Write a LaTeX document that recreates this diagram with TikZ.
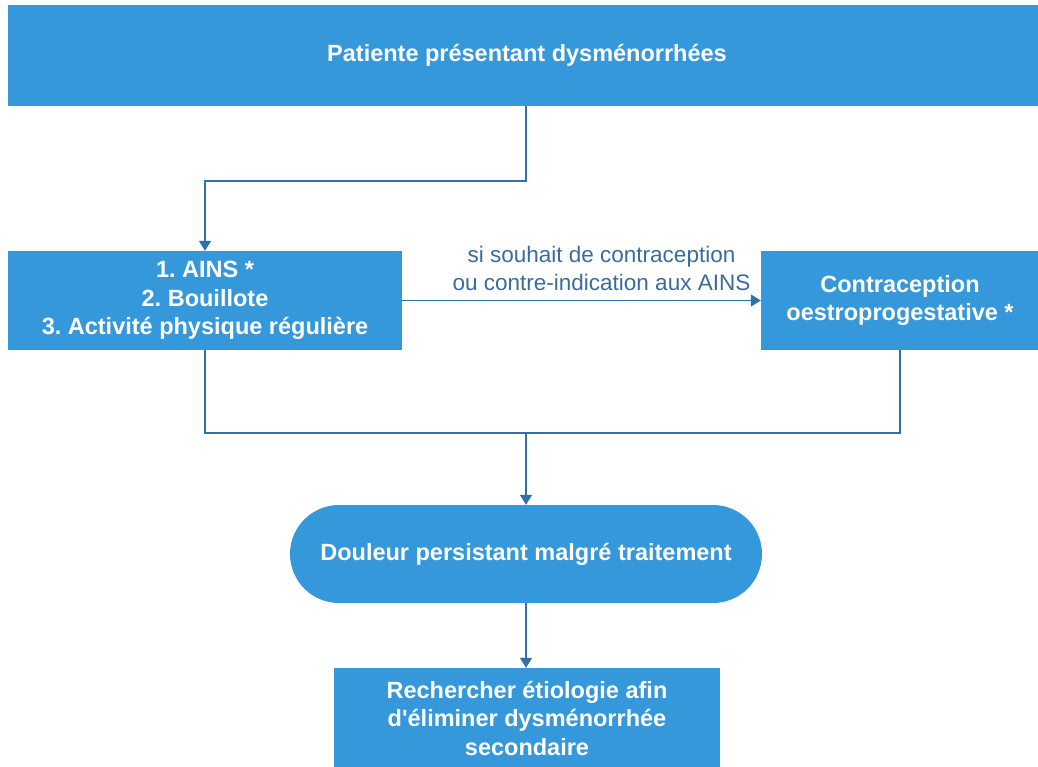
\documentclass[tikz,border=0pt]{standalone}
\usepackage{fontspec}
\setmainfont{Liberation Sans}
\usetikzlibrary{arrows.meta}
\definecolor{boxblue}{HTML}{3598DA}
\definecolor{linkblue}{HTML}{2F72AB}
\definecolor{labelblue}{HTML}{3A6B9C}
\frenchspacing
\tikzset{
  stepbox/.style={rectangle, fill=boxblue, text=white, align=center,
    font=\bfseries\fontsize{23.5}{28.5}\selectfont, inner sep=0pt},
  roundbox/.style={stepbox, rounded corners=49pt},
  link/.style={draw=linkblue, line width=1.6pt, -{Triangle[width=12pt,length=10pt]}},
  plain/.style={draw=linkblue, line width=1.6pt}
}
\begin{document}
\begin{tikzpicture}[x=1pt,y=-1pt]
      \useasboundingbox (0,0) rectangle (1038,766);
      \clip (0,0) rectangle (1038,766);
      \node[stepbox, minimum width=1038pt, minimum height=101pt] (patiente) at (527,55.5)
        {Patiente présentant dysménorrhées};
      \node[stepbox, minimum width=394pt, minimum height=99pt] (ains) at (205,300.5)
        {1. AINS *\\2. Bouillote\\3. Activité physique régulière};
      \node[stepbox, minimum width=278pt, minimum height=99pt] (contra) at (900,300.5)
        {Contraception\\oestroprogestative *};
      \node[roundbox, minimum width=472pt, minimum height=98pt] (douleur) at (526,554)
        {Douleur persistant malgré traitement};
      \node[stepbox, minimum width=386pt, minimum height=100pt] (etiologie) at (527,718)
        {Rechercher étiologie afin\\d\textquotesingle éliminer dysménorrhée\\secondaire};
      \coordinate (merge) at (526,433);
      \begin{scope}
        \draw[link] (patiente.south -| merge) -- ++(0,75) -| (ains.north);
        \draw[link] (ains.east) -- node[above=6pt, xshift=20pt, text=labelblue, align=center,
          font=\fontsize{22.5}{28}\selectfont] {si souhait de contraception\\ou contre-indication aux AINS} (contra.west);
        \draw[plain] (ains.south) |- (merge);
        \draw[plain] (contra.south) |- (merge);
        \draw[link] (merge) -- (douleur.north);
        \draw[link] (douleur.south) -- (etiologie.north -| douleur.south);
      \end{scope}
    \end{tikzpicture}
\end{document}
